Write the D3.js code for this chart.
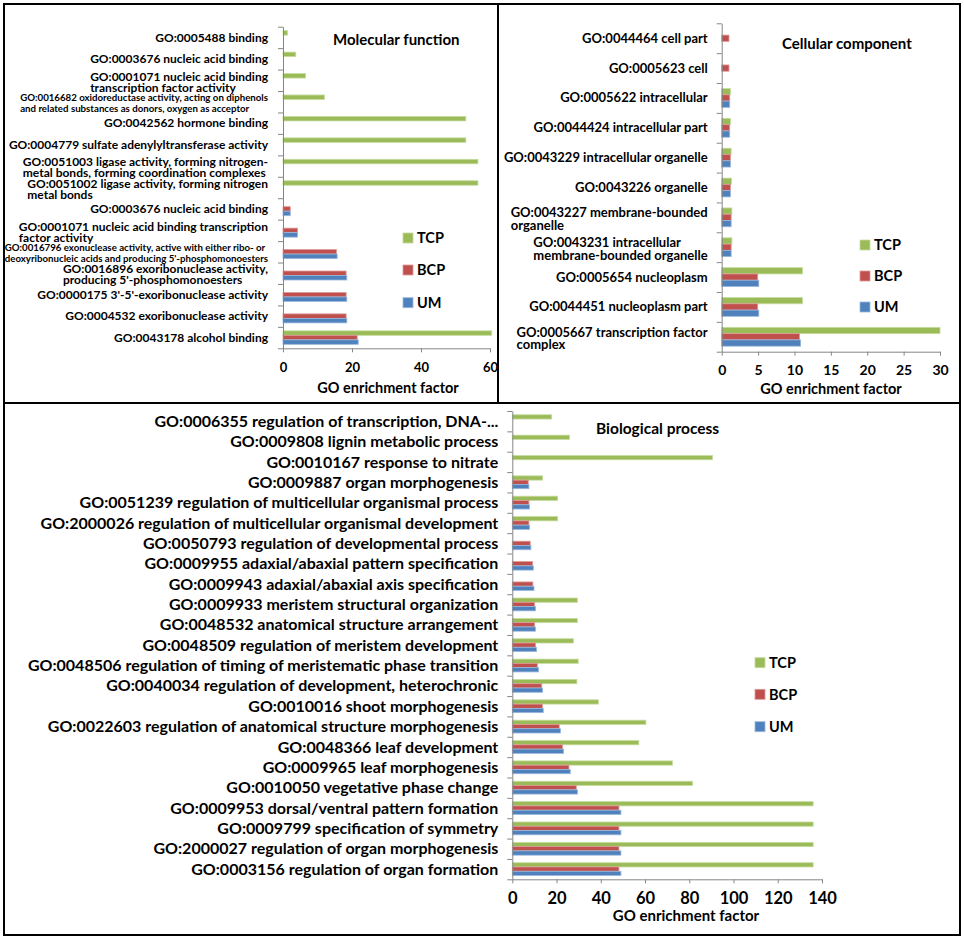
<!DOCTYPE html>
<html>
<head>
<meta charset="utf-8">
<script src="https://cdn.jsdelivr.net/npm/d3@7"></script>
<style>
body { margin: 0; background: #fff; }
svg text { font-family: Lato, "Open Sans", sans-serif; font-weight: 700; fill: #000; }
</style>
</head>
<body>
<svg id="chart" width="964" height="937"></svg>
<script>
let seriesNames = ["TCP", "BCP", "UM"];
let seriesFill = ["#9bbb59", "#c0504d", "#4f81bd"];
let seriesEdge = ["#c6dc9e", "#dc9a98", "#9ab8dc"];

// Molecular function
let mfLabels = [
    ["GO:0005488 binding"],
    ["GO:0003676 nucleic acid binding"],
    ["GO:0001071 nucleic acid binding", "transcription factor activity"],
    ["GO:0016682 oxidoreductase activity, acting on diphenols", "and related substances as donors, oxygen as acceptor"],
    ["GO:0042562 hormone binding"],
    ["GO:0004779 sulfate adenylyltransferase activity"],
    ["GO:0051003 ligase activity, forming nitrogen-", "metal bonds, forming coordination complexes"],
    ["GO:0051002 ligase activity, forming nitrogen", "metal bonds"],
    ["GO:0003676 nucleic acid binding"],
    ["GO:0001071 nucleic acid binding transcription", "factor activity"],
    ["GO:0016796 exonuclease activity, active with either ribo- or", "deoxyribonucleic acids and producing 5'-phosphomonoesters"],
    ["GO:0016896 exoribonuclease activity,", "producing 5'-phosphomonoesters"],
    ["GO:0000175 3'-5'-exoribonuclease activity"],
    ["GO:0004532 exoribonuclease activity"],
    ["GO:0043178 alcohol binding"]
];
let mfSmall = [3, 10]; // these two labels use the small font
let mfTCP = [1.3, 3.7, 6.5, 12.0, 53.0, 53.0, 56.5, 56.5, 0, 0, 0, 0, 0, 0, 60.5];
let mfBCP = [0, 0, 0, 0, 0, 0, 0, 0, 2.1, 4.2, 15.5, 18.3, 18.3, 18.3, 21.5];
let mfUM = [0, 0, 0, 0, 0, 0, 0, 0, 2.1, 4.2, 15.7, 18.5, 18.5, 18.5, 21.8];
let mfTicks = [0, 20, 40, 60];

// Cellular component
let ccLabels = [
    ["GO:0044464 cell part"],
    ["GO:0005623 cell"],
    ["GO:0005622 intracellular"],
    ["GO:0044424 intracellular part"],
    ["GO:0043229 intracellular organelle"],
    ["GO:0043226 organelle"],
    ["GO:0043227 membrane-bounded", "organelle"],
    ["GO:0043231 intracellular", "membrane-bounded organelle"],
    ["GO:0005654 nucleoplasm"],
    ["GO:0044451 nucleoplasm part"],
    ["GO:0005667 transcription factor", "complex"]
];
let ccTCP = [0, 0, 1.2, 1.2, 1.3, 1.35, 1.4, 1.4, 11.1, 11.1, 30.0];
let ccBCP = [1.0, 1.0, 1.1, 1.1, 1.2, 1.2, 1.3, 1.3, 4.95, 4.95, 10.7];
let ccUM = [0, 0, 1.1, 1.1, 1.2, 1.2, 1.3, 1.3, 5.1, 5.1, 10.85];
let ccTicks = [0, 5, 10, 15, 20, 25, 30];

// Biological process
let bpLabels = [
    ["GO:0006355 regulation of transcription, DNA-..."],
    ["GO:0009808 lignin metabolic process"],
    ["GO:0010167 response to nitrate"],
    ["GO:0009887 organ morphogenesis"],
    ["GO:0051239 regulation of multicellular organismal process"],
    ["GO:2000026 regulation of multicellular organismal development"],
    ["GO:0050793 regulation of developmental process"],
    ["GO:0009955 adaxial/abaxial pattern specification"],
    ["GO:0009943 adaxial/abaxial axis specification"],
    ["GO:0009933 meristem structural organization"],
    ["GO:0048532 anatomical structure arrangement"],
    ["GO:0048509 regulation of meristem development"],
    ["GO:0048506 regulation of timing of meristematic phase transition"],
    ["GO:0040034 regulation of development, heterochronic"],
    ["GO:0010016 shoot morphogenesis"],
    ["GO:0022603 regulation of anatomical structure morphogenesis"],
    ["GO:0048366 leaf development"],
    ["GO:0009965 leaf morphogenesis"],
    ["GO:0010050 vegetative phase change"],
    ["GO:0009953 dorsal/ventral pattern formation"],
    ["GO:0009799 specification of symmetry"],
    ["GO:2000027 regulation of organ morphogenesis"],
    ["GO:0003156 regulation of organ formation"]
];
let bpTCP = [17.8, 25.8, 90.5, 13.7, 20.5, 20.5, 0, 0, 0, 29.4, 29.4, 27.6, 29.8, 29.2, 38.9, 60.4, 57.2, 72.4, 81.5, 136, 136, 136, 136];
let bpBCP = [0, 0, 0, 7.2, 7.5, 7.5, 8.1, 9.2, 9.3, 10.1, 10.1, 10.5, 11.3, 13.3, 13.6, 21.2, 22.7, 25.6, 28.9, 48.2, 48.2, 48.2, 48.2];
let bpUM = [0, 0, 0, 7.5, 7.8, 7.8, 8.4, 9.5, 9.8, 10.5, 10.5, 11.0, 11.9, 13.7, 14.0, 21.8, 23.2, 26.2, 29.5, 49.1, 49.1, 49.1, 49.1];
let bpTicks = [0, 20, 40, 60, 80, 100, 120, 140];

let svg = d3.select("#chart");
let axisGrey = "#868686";

// panel frames
svg.append("rect").attr("x", 4).attr("y", 4).attr("width", 494).attr("height", 399)
    .attr("fill", "none").attr("stroke", "#000").attr("stroke-width", 2);
svg.append("rect").attr("x", 498).attr("y", 4).attr("width", 462).attr("height", 399)
    .attr("fill", "none").attr("stroke", "#000").attr("stroke-width", 2);
svg.append("rect").attr("x", 4).attr("y", 403).attr("width", 956).attr("height", 532)
    .attr("fill", "none").attr("stroke", "#000").attr("stroke-width", 2);

function drawPanel(p) {
    let g = svg.append("g");
    let n = p.labels.length;

    let x = d3.scaleLinear().domain(p.domain).range([p.x0, p.x1]);
    let y = d3.scaleBand()
        .domain(d3.range(n))
        .range([p.top, p.bottom])
        .paddingInner(0.37)
        .paddingOuter(0.185);
    let ySub = d3.scaleBand()
        .domain(seriesNames)
        .range([0, y.bandwidth()]);

    let rows = [];
    p.values.forEach(function (vals, s) {
        vals.forEach(function (v, i) {
            if (v > 0) rows.push({i: i, s: s, v: v});
        });
    });

    g.selectAll("rect.bar").data(rows).enter()
        .append("rect")
        .attr("class", "bar")
        .attr("x", x(0))
        .attr("y", d => y(d.i) + ySub(seriesNames[d.s]))
        .attr("width", d => x(d.v) - x(0))
        .attr("height", ySub.bandwidth())
        .attr("fill", d => seriesFill[d.s])
        .attr("stroke", d => seriesEdge[d.s])
        .attr("stroke-width", 0.8);

    // category axis, ticks between categories
    let yEdge = d3.scaleLinear().domain([0, n]).range([p.top, p.bottom]);
    let yAxis = g.append("g")
        .attr("transform", "translate(" + x(0) + ",0)")
        .call(d3.axisLeft(yEdge).tickValues(d3.range(n + 1)).tickFormat("").tickSize(5).tickSizeOuter(0));
    yAxis.selectAll("path, line").attr("stroke", axisGrey);

    // value axis
    let pad = p.tickOffset - 0.35 * p.tickSize - 4;
    let xAxis = g.append("g")
        .attr("transform", "translate(0," + p.bottom + ")")
        .call(d3.axisBottom(x).tickValues(p.ticks).tickSize(4).tickSizeOuter(0).tickPadding(pad));
    xAxis.attr("font-size", p.tickSize);
    xAxis.selectAll("path, line").attr("stroke", axisGrey);

    // category labels: block right-aligned, lines left-aligned inside it
    p.labels.forEach(function (lines, i) {
        let small = p.small.includes(i);
        let fs = small ? p.smallSize : p.labelSize;
        let lh = small ? p.smallGap : p.lineGap;
        let cy = y(i) + y.bandwidth() / 2 + (lines.length > 1 ? 1.5 : 0);
        let texts = lines.map(function (line, k) {
            return g.append("text")
                .attr("y", cy + (k - (lines.length - 1) / 2) * lh)
                .attr("dy", "0.35em")
                .style("font-size", fs + "px")
                .text(line);
        });
        let w = d3.max(texts, t => t.node().getComputedTextLength());
        texts.forEach(t => t.attr("x", p.labelX - w));
    });

    g.append("text")
        .attr("x", p.titleX).attr("y", p.titleY).attr("dy", "0.35em")
        .style("font-size", p.titleSize + "px")
        .text(p.title);

    g.append("text")
        .attr("x", p.axisTitleX).attr("y", p.axisTitleY).attr("dy", "0.35em")
        .attr("text-anchor", "middle")
        .style("font-size", p.axisTitleSize + "px")
        .text("GO enrichment factor");

    seriesNames.forEach(function (name, k) {
        g.append("rect")
            .attr("x", p.legX).attr("y", p.legY[k] - 5)
            .attr("width", 10).attr("height", 10)
            .attr("fill", seriesFill[k])
            .attr("stroke", seriesEdge[k]).attr("stroke-width", 0.8);
        g.append("text")
            .attr("x", p.legX + 14).attr("y", p.legY[k]).attr("dy", "0.36em")
            .style("font-size", "14.5px")
            .text(name);
    });
}

drawPanel({
    labels: mfLabels, small: mfSmall, values: [mfTCP, mfBCP, mfUM], ticks: mfTicks,
    domain: [0, 60], x0: 283, x1: 490, top: 26.7, bottom: 348.3,
    labelX: 268, labelSize: 12, smallSize: 9.7, lineGap: 11, smallGap: 10.5,
    tickSize: 13, tickOffset: 18.7,
    title: "Molecular function", titleX: 333, titleY: 40, titleSize: 15,
    legX: 403, legY: [238, 270, 302.7],
    axisTitleX: 388, axisTitleY: 387.7, axisTitleSize: 14.5
});

drawPanel({
    labels: ccLabels, small: [], values: [ccTCP, ccBCP, ccUM], ticks: ccTicks,
    domain: [0, 30], x0: 721.7, x1: 940, top: 23.3, bottom: 351.7,
    labelX: 707.7, labelSize: 13, smallSize: 13, lineGap: 12.5, smallGap: 12.5,
    tickSize: 14, tickOffset: 18.3,
    title: "Cellular component", titleX: 782, titleY: 43.3, titleSize: 15,
    legX: 860, legY: [245, 276, 307],
    axisTitleX: 831, axisTitleY: 389, axisTitleSize: 14.5
});

drawPanel({
    labels: bpLabels, small: [], values: [bpTCP, bpBCP, bpUM], ticks: bpTicks,
    domain: [0, 140], x0: 512.3, x1: 822, top: 411, bottom: 879.3,
    labelX: 498.3, labelSize: 16, smallSize: 16, lineGap: 16, smallGap: 16,
    tickSize: 16.5, tickOffset: 19,
    title: "Biological process", titleX: 596, titleY: 429, titleSize: 15.5,
    legX: 755, legY: [662.7, 694.3, 726.7],
    axisTitleX: 686, axisTitleY: 915.7, axisTitleSize: 15
});
</script>
</body>
</html>
